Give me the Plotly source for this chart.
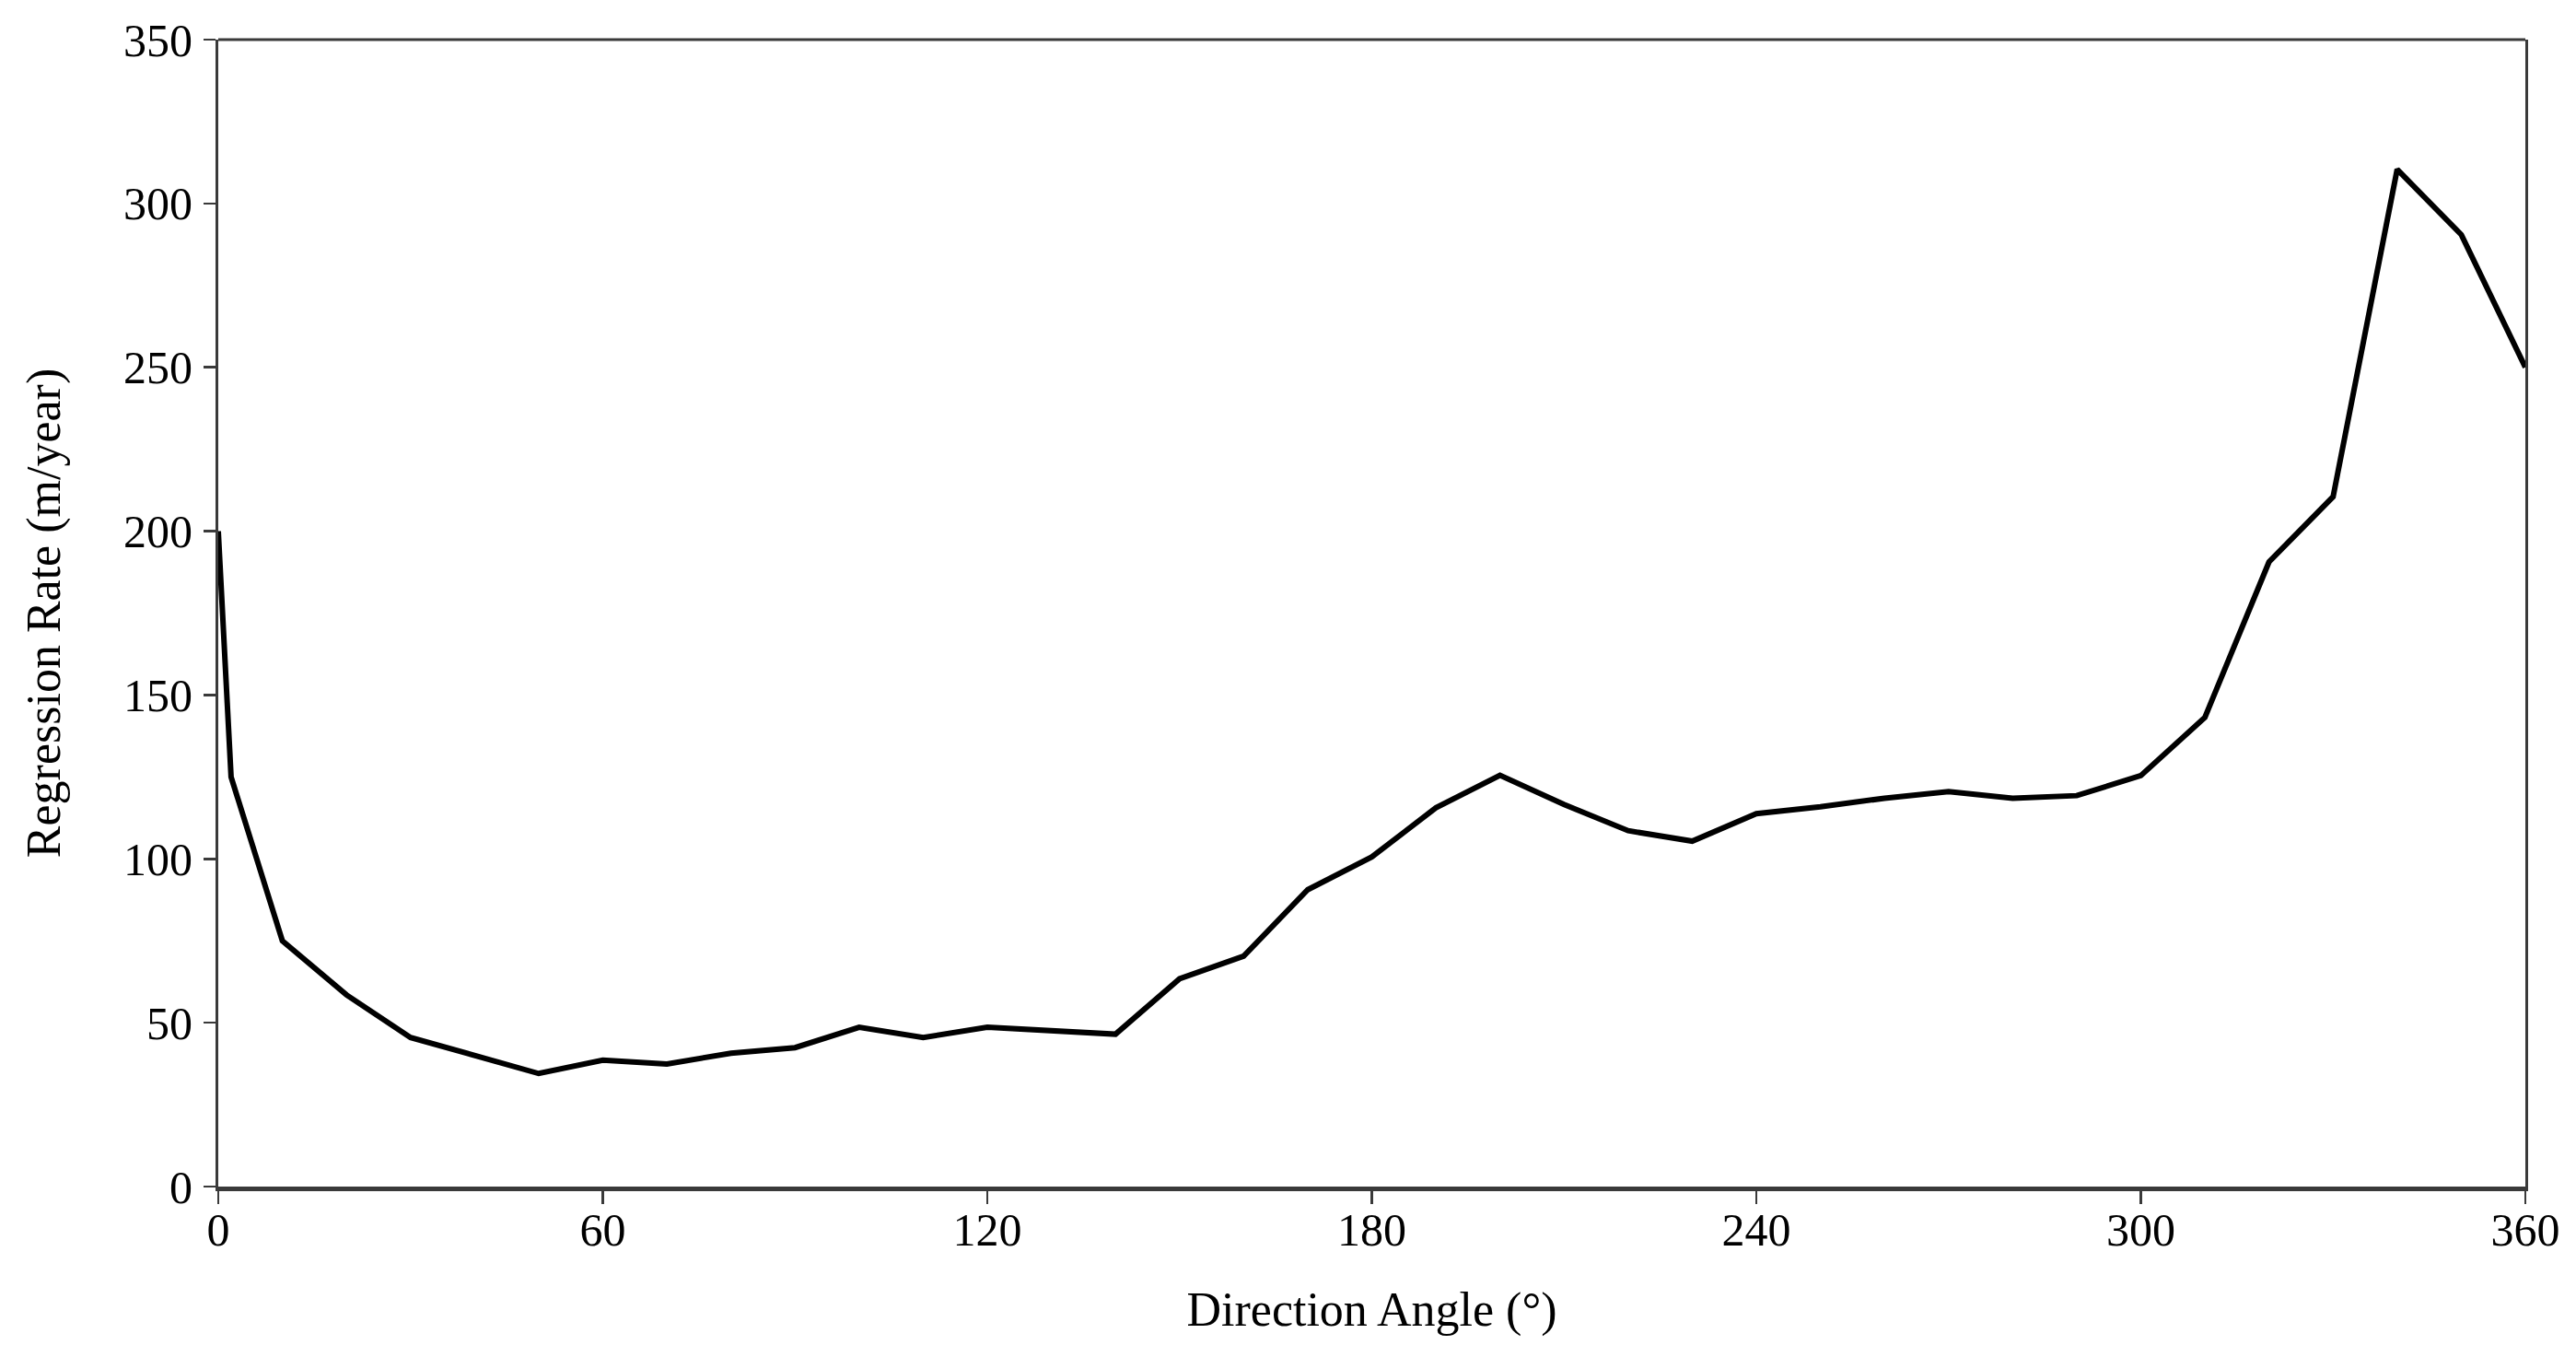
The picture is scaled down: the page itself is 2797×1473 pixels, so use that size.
import plotly.graph_objects as go

# Data
direction_angle = [0, 2, 10, 20, 30, 40, 50, 60, 70, 80, 90, 100, 110, 120, 130, 140,
                   150, 160, 170, 180, 190, 200, 210, 220, 230, 240, 250, 260, 270,
                   280, 290, 300, 310, 320, 330, 340, 350, 360]
regression_rate = [200, 125, 75, 58.5, 45.5, 39.8, 34.5, 38.6, 37.4, 40.7, 42.4, 48.6, 45.5,
                   48.6, 47.5, 46.5, 63.4, 70.3, 90.6, 100.6, 115.6, 125.5, 116.6, 108.6,
                   105.4, 113.8, 115.9, 118.5, 120.5, 118.5, 119.3, 125.4, 143.2, 190.6,
                   210.5, 310.4, 290.5, 250]

x_ticks = [0, 60, 120, 180, 240, 300, 360]
y_ticks = [0, 50, 100, 150, 200, 250, 300, 350]

x_title = "Direction Angle (°)"
y_title = "Regression Rate (m/year)"

FONT = "Liberation Serif, Times New Roman, serif"
AXIS_COLOR = "#3a3a3a"

fig = go.Figure()
fig.add_trace(go.Scatter(
    x=direction_angle, y=regression_rate, mode="lines",
    line=dict(color="black", width=6), showlegend=False, hoverinfo="skip",
))

fig.update_layout(
    width=2797, height=1473,
    margin=dict(l=237, r=55, t=43, b=185, pad=0),
    paper_bgcolor="white", plot_bgcolor="white",
    font=dict(family=FONT, color="black", size=50),
    shapes=[dict(type="line", xref="paper", yref="paper", x0=0, x1=1, y0=1, y1=1,
                 line=dict(color=AXIS_COLOR, width=3))],
)

fig.update_xaxes(
    range=[0, 360], tickvals=x_ticks, ticktext=[str(v) for v in x_ticks],
    showgrid=False, zeroline=False,
    showline=True, linecolor=AXIS_COLOR, linewidth=5, mirror=False,
    ticks="outside", ticklen=14, tickwidth=2.5, tickcolor=AXIS_COLOR,
    ticklabelstandoff=-15,
    tickfont=dict(family=FONT, size=50, color="black"),
    title=dict(text=x_title, font=dict(family=FONT, size=52, color="black"), standoff=42),
)
fig.update_yaxes(
    range=[0, 350], tickvals=y_ticks, ticktext=[str(v) for v in y_ticks],
    showgrid=False, zeroline=False,
    showline=True, linecolor=AXIS_COLOR, linewidth=3, mirror=True,
    ticks="outside", ticklen=13, tickwidth=2.5, tickcolor=AXIS_COLOR,
    ticklabelstandoff=2,
    tickfont=dict(family=FONT, size=50, color="black"),
    title=dict(text=y_title, font=dict(family=FONT, size=52, color="black"), standoff=52),
)

fig.write_html("out.html", config={"displayModeBar": False, "staticPlot": True},
               post_script="document.body.style.margin='0';document.body.style.padding='0';")
